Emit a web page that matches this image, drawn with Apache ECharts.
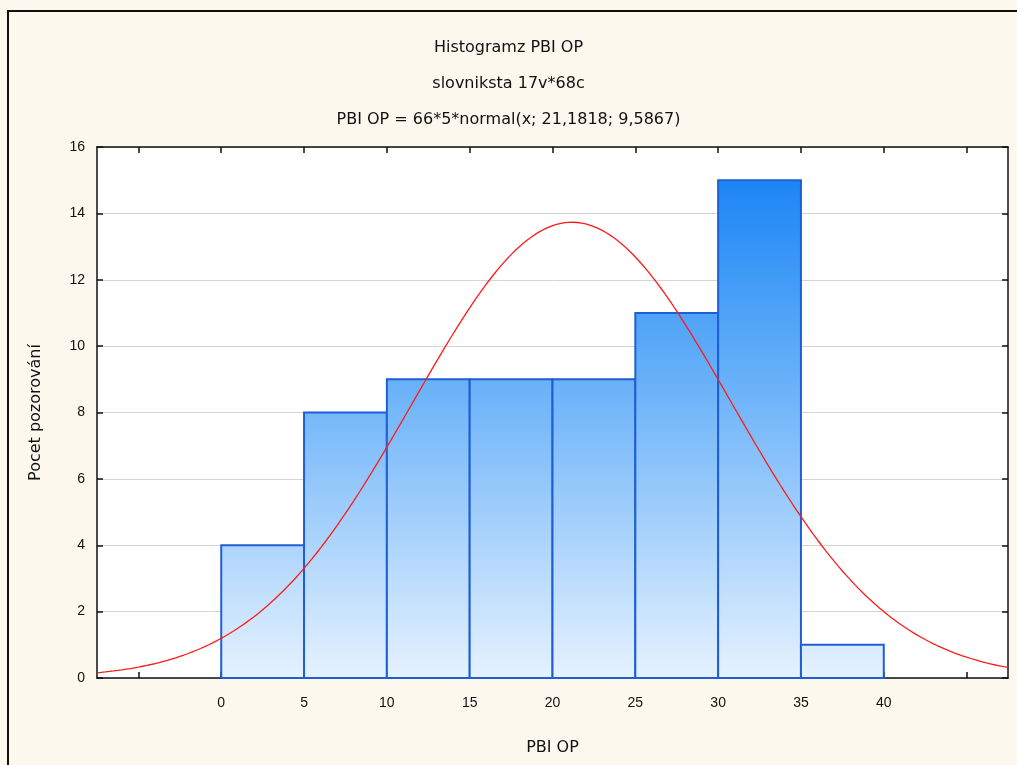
<!DOCTYPE html>
<html>
<head>
<meta charset="utf-8">
<title>Histogramz PBI OP</title>
<script src="https://cdn.jsdelivr.net/npm/echarts@6/dist/echarts.min.js"></script>
<style>
  html, body { margin: 0; padding: 0; background: #fdf8ee; }
  #chart { width: 1017px; height: 765px; }
</style>
</head>
<body>
<div id="chart"></div>
<script>
// Histogram classes (lower and upper bounds) and observed counts
const binStarts = [0, 5, 10, 15, 20, 25, 30, 35];
const binEnds   = [5, 10, 15, 20, 25, 30, 35, 40];
const counts    = [4, 8, 9, 9, 9, 11, 15, 1];

// Fitted normal curve parameters as stated in the subtitle: 66*5*normal(x; 21,1818; 9,5867)
const nObs = 66;
const binWidth = 5;
const fitMean = 21.1818;
const fitSd = 9.5867;

// Axis tick positions and labels
const xTickValues = [-5, 0, 5, 10, 15, 20, 25, 30, 35, 40, 45];
const xLabelValues = [0, 5, 10, 15, 20, 25, 30, 35, 40];
const xRange = [-7.5, 47.5];
const yRange = [0, 16];

const titleLines = [
  'Histogramz PBI OP',
  'slovniksta 17v*68c',
  'PBI OP = 66*5*normal(x; 21,1818; 9,5867)'
];

function normalCurve() {
  const pts = [];
  const steps = 220;
  for (let i = 0; i <= steps; i++) {
    const x = xRange[0] + (xRange[1] - xRange[0]) * i / steps;
    const z = (x - fitMean) / fitSd;
    const y = nObs * binWidth * Math.exp(-0.5 * z * z) / (fitSd * Math.sqrt(2 * Math.PI));
    pts.push([x, y]);
  }
  return pts;
}

const histData = binStarts.map((s, i) => [s, binEnds[i], counts[i]]);

const chart = echarts.init(document.getElementById('chart'), null, { renderer: 'canvas' });

const GRID = { left: 97, right: 9, top: 147, bottom: 87 };
const FONT = 'Liberation Sans, Arial, sans-serif';
const WIDE_FONT = 'DejaVu Sans, Verdana, sans-serif';

// Fill shades with height across the whole plot area
const barFill = new echarts.graphic.LinearGradient(0, GRID.top, 0, 765 - GRID.bottom, [
  { offset: 0, color: '#0f7ef4' },
  { offset: 0.45, color: '#6ab2f9' },
  { offset: 1, color: '#e6f2fe' }
], true);

const axisLineStyle = { color: '#111', width: 1.5 };

chart.setOption({
  backgroundColor: '#fdf8ee',
  animation: false,
  title: titleLines.map((t, i) => ({
    text: t,
    left: 'center',
    top: 35 + i * 36,
    textStyle: { fontFamily: WIDE_FONT, fontSize: 16, fontWeight: 'normal', color: '#111' }
  })),
  graphic: [{
    type: 'rect',
    shape: { x: 8, y: 11, width: 1100, height: 900 },
    style: { fill: 'none', stroke: '#111', lineWidth: 2 },
    silent: true,
    z: 100
  }],
  grid: Object.assign({ backgroundColor: '#ffffff', show: true, borderWidth: 0 }, GRID),
  xAxis: [{
    type: 'value',
    min: xRange[0],
    max: xRange[1],
    position: 'bottom',
    name: 'PBI OP',
    nameLocation: 'middle',
    nameGap: 62,
    nameTextStyle: { fontFamily: WIDE_FONT, fontSize: 16, color: '#111' },
    axisLine: { show: true, lineStyle: axisLineStyle, onZero: false },
    axisTick: { show: true, inside: true, length: 6, customValues: xTickValues, lineStyle: { color: '#111', width: 1.5 } },
    axisLabel: { customValues: xLabelValues, margin: 18, fontFamily: FONT, fontSize: 14, color: '#111' },
    splitLine: { show: false }
  }, {
    type: 'value',
    min: xRange[0],
    max: xRange[1],
    position: 'top',
    axisLine: { show: true, lineStyle: axisLineStyle, onZero: false },
    axisTick: { show: true, inside: true, length: 6, customValues: xTickValues, lineStyle: { color: '#111', width: 1.5 } },
    axisLabel: { show: false },
    splitLine: { show: false }
  }],
  yAxis: [{
    type: 'value',
    min: yRange[0],
    max: yRange[1],
    interval: 2,
    position: 'left',
    name: 'Pocet pozorování',
    nameLocation: 'middle',
    nameGap: 53,
    nameTextStyle: { fontFamily: WIDE_FONT, fontSize: 16, color: '#111' },
    axisLine: { show: true, lineStyle: axisLineStyle, onZero: false },
    axisTick: { show: true, inside: true, length: 6, lineStyle: { color: '#111', width: 1.5 } },
    axisLabel: { margin: 12, fontFamily: FONT, fontSize: 14, color: '#111' },
    splitLine: { show: true, lineStyle: { color: '#d4d4d4', width: 1 } }
  }, {
    type: 'value',
    min: yRange[0],
    max: yRange[1],
    interval: 2,
    position: 'right',
    axisLine: { show: true, lineStyle: axisLineStyle, onZero: false },
    axisTick: { show: true, inside: true, length: 6, lineStyle: { color: '#111', width: 1.5 } },
    axisLabel: { show: false },
    splitLine: { show: false }
  }],
  series: [{
    type: 'custom',
    name: 'PBI OP',
    xAxisIndex: 0,
    yAxisIndex: 0,
    data: histData,
    encode: { x: [0, 1], y: 2 },
    renderItem: function (params, api) {
      const p0 = api.coord([api.value(0), api.value(2)]);
      const p1 = api.coord([api.value(1), 0]);
      return {
        type: 'rect',
        shape: { x: p0[0], y: p0[1], width: p1[0] - p0[0], height: p1[1] - p0[1] },
        style: { fill: barFill, stroke: '#1f5fd6', lineWidth: 2 }
      };
    },
    z: 2
  }, {
    type: 'line',
    name: 'normal',
    xAxisIndex: 0,
    yAxisIndex: 0,
    data: normalCurve(),
    showSymbol: false,
    smooth: false,
    lineStyle: { color: '#ff1a1a', width: 1.3 },
    z: 3
  }]
});
</script>
</body>
</html>
